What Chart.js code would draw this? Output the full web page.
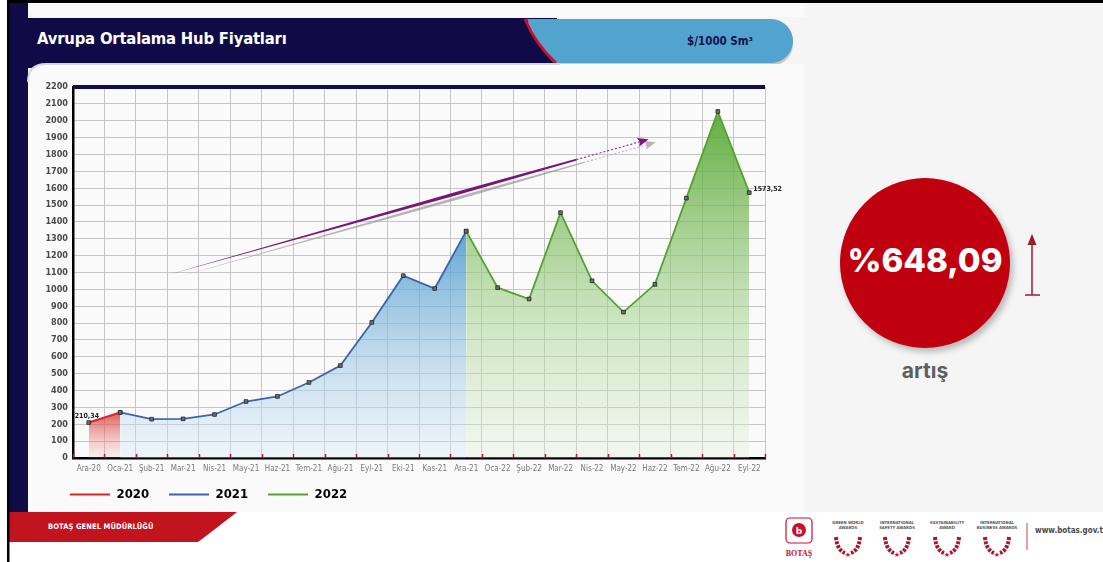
<!DOCTYPE html>
<html>
<head>
<meta charset="utf-8">
<script src="https://cdn.jsdelivr.net/npm/chart.js@4.4.1/dist/chart.umd.min.js"></script>
<style>
  html, body { margin: 0; padding: 0; }
  body { width: 1103px; height: 562px; position: relative; overflow: hidden; background: #f5f5f5; font-family: "DejaVu Sans Condensed", "DejaVu Sans", sans-serif; }
  #deco { position: absolute; left: 0; top: 0; }
  #chartBox { position: absolute; left: 22px; top: 66px; width: 778px; height: 452px; }
  .title { position: absolute; left: 37px; top: 29px; color: #fff; font-weight: bold; font-size: 16.5px; letter-spacing: -0.2px; }
  .unit { position: absolute; left: 687px; top: 34px; color: #17124d; font-weight: bold; font-size: 11.5px; }
  .circle { position: absolute; left: 840px; top: 178px; width: 170px; height: 170px; border-radius: 50%; background: #c1000f; box-shadow: 3px 4px 6px rgba(0,0,0,0.25); }
  .pct { position: absolute; left: 840px; top: 240px; width: 170px; text-align: center; color: #fff; font-family: Inter, sans-serif; font-weight: 800; font-size: 33px; }
  .artis { position: absolute; left: 840px; top: 358px; width: 170px; text-align: center; color: #5e5e5e; font-family: Inter, sans-serif; font-weight: 700; font-size: 21px; }
  .footer { position: absolute; left: 48px; top: 522px; color: #fff; font-weight: bold; font-size: 7.5px; letter-spacing: 0.1px; }
  .url { position: absolute; left: 1035px; top: 526px; color: #4a4a4a; font-weight: bold; font-size: 8px; white-space: nowrap; }
</style>
</head>
<body>
<svg id="deco" width="1103" height="562">
  <rect x="0" y="0" width="1103" height="562" fill="#f5f5f5"/>
  <!-- navy side panel and header -->
  <rect x="9" y="3" width="19" height="509" fill="#100b47"/>
  <rect x="9" y="18" width="548" height="50" fill="#100b47"/>
  <!-- top white band -->
  <path d="M28 3 L805 3 L805 17 L40 17 Q28 17 28 5 Z" fill="#fafafa"/>
  <!-- light blue pill with shadow -->
  <path d="M527 22 L771 22 A22 22 0 0 1 793 44 A22 22 0 0 1 771 66 L557 66 Q538 48 527 22 Z" fill="#c9c9c9"/>
  <path d="M527 19 L771 19 A22 22 0 0 1 793 41 A22 22 0 0 1 771 63 L557 63 Q538 45 527 19 Z" fill="#53a3cf"/>
  <path d="M525 19 Q536 45 556 63" stroke="#c8102e" stroke-width="3" fill="none"/>
  <!-- chart card -->
  <path d="M28 82 Q28 64 46 64 L805 64 L805 512 L28 512 Z" fill="#fafafa"/>
  <path d="M28 82 Q28 64 46 64 L560 64" stroke="#d6d6d6" stroke-width="2" fill="none"/>
  <!-- footer band -->
  <rect x="9" y="512" width="1094" height="50" fill="#ffffff"/>
  <path d="M9 512 L237 512 Q214 530 198 542 L9 542 Z" fill="#c2141f"/>
  <!-- black frame -->
  <rect x="0" y="0" width="7" height="562" fill="#ffffff"/>
  <rect x="7" y="0" width="1096" height="3" fill="#000"/>
  <rect x="7" y="0" width="2.5" height="562" fill="#000"/>
  <!-- right arrow -->
  <line x1="1032" y1="244" x2="1032" y2="295" stroke="#9b1b30" stroke-width="1.5"/>
  <line x1="1025" y1="295" x2="1040" y2="295" stroke="#9b1b30" stroke-width="1.5"/>
  <path d="M1027.5 245 L1032 234 L1036.5 245 Z" fill="#9b1b30"/>
  <!-- logo -->
  <rect x="786" y="518" width="26" height="25" rx="4" fill="none" stroke="#c8102e" stroke-width="1.2"/>
  <circle cx="799" cy="530" r="7" fill="#c8102e"/>
  <text x="799" y="533.5" text-anchor="middle" font-size="9" font-weight="bold" fill="#fff" font-family="DejaVu Sans">b</text>
  <text x="799" y="556" text-anchor="middle" font-size="8" font-weight="bold" fill="#c8102e" font-family="Liberation Serif">BOTAŞ</text>
  <g font-family="DejaVu Sans Condensed" font-size="4.2" font-weight="bold" fill="#555" text-anchor="middle">
    <text x="848" y="524">GREEN WORLD</text><text x="848" y="529">AWARDS</text>
    <text x="897" y="524">INTERNATIONAL</text><text x="897" y="529">SAFETY AWARDS</text>
    <text x="947" y="524">SUSTAINABILITY</text><text x="947" y="529">AWARD</text>
    <text x="997" y="524">INTERNATIONAL</text><text x="997" y="529">BUSINESS AWARDS</text>
  </g>
  <g stroke="#a01c2c" stroke-width="4" fill="none" stroke-dasharray="3 1.2">
    <path d="M836 537 Q837 550 845 553"/><path d="M860 537 Q859 550 851 553"/>
    <path d="M885 537 Q886 550 894 553"/><path d="M909 537 Q908 550 900 553"/>
    <path d="M935 537 Q936 550 944 553"/><path d="M959 537 Q958 550 950 553"/>
    <path d="M985 537 Q986 550 994 553"/><path d="M1009 537 Q1008 550 1000 553"/>
  </g>
  <g fill="#c8102e" font-size="7" text-anchor="middle" font-family="DejaVu Sans">
    <text x="848" y="557">★</text><text x="897" y="557">★</text><text x="947" y="557">★</text><text x="997" y="557">★</text>
  </g>
  <line x1="1027" y1="523" x2="1027" y2="550" stroke="#c44" stroke-width="1"/>
</svg>

<div class="title">Avrupa Ortalama Hub Fiyatları</div>
<div class="unit">$/1000 Sm³</div>
<div class="circle"></div>
<div class="pct">%648,09</div>
<div class="artis">artış</div>
<div class="footer">BOTAŞ GENEL MÜDÜRLÜĞÜ</div>
<div class="url">www.botas.gov.tr</div>

<div id="chartBox"><canvas id="hubChart"></canvas></div>

<script>
// monthly hub prices, $/1000 Sm3
const months = ["Ara-20", "Oca-21", "Şub-21", "Mar-21", "Nis-21", "May-21", "Haz-21", "Tem-21", "Ağu-21", "Eyl-21", "Eki-21", "Kas-21",
  "Ara-21", "Oca-22", "Şub-22", "Mar-22", "Nis-22", "May-22", "Haz-22", "Tem-22", "Ağu-22", "Eyl-22"];
const prices2020 = [210.34, 270];            // Ara-20 .. Oca-21
const prices2021 = [270, 230, 232, 258, 335, 365, 448, 548, 804, 1081, 1005, 1345];  // Oca-21 .. Ara-21
const prices2022 = [1345, 1010, 943, 1455, 1051, 865, 1030, 1541, 2055, 1573.52];   // Ara-21 .. Eyl-22
const yTicks = { min: 0, max: 2200, step: 100 };
// trend arrow, in (month index, price)
const arrowFrom = [2.5, 1085];
const arrowTo = [17.8, 1890];

// place a series on the shared month axis
function place(values, startIndex) {
  const out = months.map(() => null);
  values.forEach((v, i) => { out[startIndex + i] = v; });
  return out;
}

function vgrad(topColor, bottomColor, fromValue) {
  return (ctx) => {
    const chart = ctx.chart;
    const area = chart.chartArea;
    if (!area) return topColor;
    const top = fromValue != null ? chart.scales.y.getPixelForValue(fromValue) : area.top;
    const g = chart.ctx.createLinearGradient(0, top, 0, area.bottom);
    g.addColorStop(0, topColor);
    g.addColorStop(1, bottomColor);
    return g;
  };
}

const fmt = (v) => v.toFixed(2).replace(".", ",");

const frameAndMarks = {
  id: "frameAndMarks",
  afterLayout(chart) {
    // legend sits a little closer to the axis and lines up under the y labels
    const lg = chart.legend;
    lg.left = 28;
    lg.top = 402;
  },
  afterDatasetsDraw(chart) {
    const { ctx, chartArea: a, scales: { x, y } } = chart;
    ctx.save();
    // red ticks on the base line
    ctx.strokeStyle = "#c8102e";
    ctx.lineWidth = 1.5;
    for (let i = 0; i <= months.length; i++) {
      const px = Math.round(x.getPixelForValue(i - 0.5)) + 0.5;
      ctx.beginPath();
      ctx.moveTo(px, a.bottom - 4);
      ctx.lineTo(px, a.bottom);
      ctx.stroke();
    }
    // navy top rule
    ctx.fillStyle = "#120d4a";
    ctx.fillRect(a.left, a.top - 2, a.right - a.left, 4);

    // trend arrow with grey shadow
    const x1 = x.getPixelForValue(arrowFrom[0]), y1 = y.getPixelForValue(arrowFrom[1]);
    const x2 = x.getPixelForValue(arrowTo[0]), y2 = y.getPixelForValue(arrowTo[1]);
    const drawArrow = (dx, dy, color, w) => {
      const ang = Math.atan2(y2 - y1, x2 - x1);
      const len = Math.hypot(x2 - x1, y2 - y1);
      ctx.save();
      ctx.translate(x1 + dx, y1 + dy);
      ctx.rotate(ang);
      ctx.fillStyle = color;
      ctx.strokeStyle = color;
      ctx.beginPath();
      ctx.moveTo(0, 0);
      ctx.lineTo(len * 0.6, -w / 2);
      ctx.lineTo(len * 0.85, -w / 4);
      ctx.lineTo(len * 0.85, w / 4);
      ctx.lineTo(len * 0.6, w / 2);
      ctx.closePath();
      ctx.fill();
      ctx.lineWidth = 1;
      ctx.setLineDash([2, 2]);
      ctx.beginPath();
      ctx.moveTo(len * 0.85, 0);
      ctx.lineTo(len - 9, 0);
      ctx.stroke();
      ctx.setLineDash([]);
      ctx.beginPath();
      ctx.moveTo(len, 0);
      ctx.lineTo(len - 11, -4.5);
      ctx.lineTo(len - 9, 0);
      ctx.lineTo(len - 11, 4.5);
      ctx.closePath();
      ctx.fill();
      ctx.restore();
    };
    drawArrow(7, 3, "rgba(150,150,150,0.7)", 3);
    drawArrow(0, 0, "#7a1677", 3.5);

    // value labels on first and last points
    ctx.fillStyle = "#222";
    ctx.font = "bold 7px 'DejaVu Sans Condensed'";
    const first = chart.getDatasetMeta(0).data[0];
    ctx.textAlign = "left";
    ctx.textBaseline = "bottom";
    ctx.fillText(fmt(prices2020[0]), first.x - 14, first.y - 3);
    const lastIdx = months.length - 1;
    const last = chart.getDatasetMeta(2).data[lastIdx];
    ctx.textBaseline = "middle";
    ctx.fillText(fmt(prices2022[prices2022.length - 1]), last.x + 4, last.y - 3);
    ctx.restore();
  }
};

const pointStyle = {
  pointStyle: "rect",
  pointRadius: 2.6,
  pointBackgroundColor: "#6f6f6f",
  pointBorderColor: "#222",
  pointBorderWidth: 0.8,
  tension: 0,
  fill: "origin",
  spanGaps: false
};

new Chart(document.getElementById("hubChart"), {
  type: "line",
  data: {
    labels: months,
    datasets: [
      Object.assign({
        label: "2020",
        data: place(prices2020, 0),
        borderColor: "#d7262b",
        borderWidth: 2,
        backgroundColor: vgrad("rgba(214,45,40,0.9)", "rgba(240,170,165,0.15)", 300)
      }, pointStyle),
      Object.assign({
        label: "2021",
        data: place(prices2021, 1),
        borderColor: "#3a64ad",
        borderWidth: 1.8,
        backgroundColor: vgrad("rgba(60,145,200,0.9)", "rgba(215,234,246,0.35)", 1450)
      }, pointStyle),
      Object.assign({
        label: "2022",
        data: place(prices2022, 12),
        borderColor: "#52a32e",
        borderWidth: 1.8,
        backgroundColor: vgrad("rgba(78,163,40,0.92)", "rgba(222,240,212,0.3)", 2100)
      }, pointStyle)
    ]
  },
  options: {
    responsive: true,
    maintainAspectRatio: false,
    animation: false,
    layout: { padding: { left: 20, top: 21, right: 35, bottom: 0 } },
    plugins: {
      tooltip: { enabled: false },
      legend: {
        position: "bottom",
        align: "start",
        labels: {
          boxWidth: 40,
          boxHeight: 2,
          padding: 20,
          color: "#111",
          font: { family: "DejaVu Sans Condensed", size: 13, weight: "bold" },
          generateLabels: (chart) => chart.data.datasets.map((ds, i) => ({
            text: ds.label,
            fillStyle: ds.borderColor,
            strokeStyle: ds.borderColor,
            lineWidth: 0,
            datasetIndex: i
          }))
        }
      }
    },
    scales: {
      x: {
        offset: true,
        grid: { offset: true, color: "#c6c6c6", lineWidth: 1, drawTicks: false },
        border: { color: "#000", width: 2.5 },
        ticks: { color: "#7a7a7a", padding: 6, maxRotation: 0, autoSkip: false, font: { family: "DejaVu Sans Condensed", size: 8 } },
        afterFit: (s) => { s.height = 17; }
      },
      y: {
        min: yTicks.min,
        max: yTicks.max,
        grid: { color: "#c6c6c6", lineWidth: 1, drawTicks: false },
        border: { color: "#000", width: 2.5 },
        ticks: {
          stepSize: yTicks.step,
          color: "#4a4a4a",
          padding: 5,
          font: { family: "DejaVu Sans Condensed", size: 9, weight: "bold" },
          callback: (v) => String(v)
        },
        afterFit: (s) => { s.width = 31; }
      }
    }
  },
  plugins: [frameAndMarks]
});
</script>
</body>
</html>
